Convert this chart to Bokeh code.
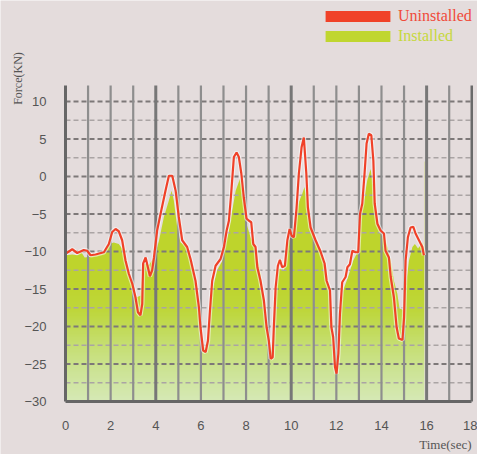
import numpy as np
from bokeh.plotting import figure
from bokeh.models import Range1d, Label, Legend, LegendItem
from bokeh.embed import file_html
from bokeh.resources import INLINE

# ---------------- data ----------------
uninstalled_t = [0.0, 0.3, 0.52, 0.81, 0.96, 1.11, 1.33, 1.7, 1.92, 2.07, 2.22, 2.36, 2.51, 2.66, 2.81,
                 2.96, 3.10, 3.21, 3.32, 3.40, 3.44, 3.55, 3.65, 3.74, 3.84, 3.92, 4.06, 4.21, 4.43,
                 4.58, 4.73, 4.88, 5.02, 5.17, 5.39, 5.54, 5.76, 5.91, 5.98, 6.10, 6.21, 6.31, 6.40,
                 6.50, 6.65, 6.87, 7.02, 7.14, 7.24, 7.34, 7.46, 7.58, 7.68, 7.79, 7.90, 8.02, 8.13,
                 8.23, 8.32, 8.42, 8.50, 8.64, 8.79, 8.91, 9.01, 9.09, 9.18, 9.23, 9.31, 9.41, 9.50,
                 9.60, 9.72, 9.83, 9.93, 10.02, 10.12, 10.24, 10.34, 10.46, 10.56, 10.67, 10.74,
                 10.86, 11.08, 11.30, 11.48, 11.57, 11.72, 11.78, 11.86, 11.94, 12.01, 12.09, 12.16,
                 12.26, 12.41, 12.49, 12.60, 12.71, 12.85, 12.97, 13.05, 13.15, 13.25, 13.34, 13.44,
                 13.55, 13.64, 13.70, 13.82, 13.96, 14.11, 14.18, 14.33, 14.41, 14.55, 14.67, 14.77,
                 14.93, 15.00, 15.07, 15.17, 15.29, 15.41, 15.51, 15.66, 15.81, 15.88]
uninstalled_f = [-10.3, -9.7, -10.2, -9.8, -9.9, -10.5, -10.4, -10.1, -9.0, -7.4, -7.0, -7.3, -8.5, -11.2,
                 -13.0, -14.3, -16.1, -18.1, -18.5, -17.0, -11.6, -10.8, -12.1, -13.3, -12.5, -10.8,
                 -7.2, -5.0, -1.9, 0.1, 0.1, -1.9, -5.4, -8.5, -9.4, -11.0, -13.9, -17.4, -20.1,
                 -23.2, -23.4, -21.9, -17.9, -13.9, -11.9, -11.0, -9.4, -7.2, -5.9, -2.3, 2.6, 3.2,
                 2.6, 0.4, -2.8, -5.6, -5.9, -6.1, -9.0, -9.4, -12.1, -13.9, -16.5, -20.1, -21.9,
                 -24.3, -24.1, -20.1, -14.8, -11.9, -11.1, -12.1, -11.9, -8.5, -7.0, -7.9, -8.1,
                 -4.1, 0.4, 3.9, 5.2, 0.4, -4.1, -6.8, -8.5, -10.0, -11.6, -13.9, -15.2, -20.1,
                 -21.4, -25.4, -26.3, -23.6, -18.3, -14.1, -13.4, -12.1, -11.7, -9.9, -10.1, -10.1,
                 -5.0, -3.6, 0.4, 4.4, 5.7, 5.5, 2.1, -3.6, -6.3, -7.2, -7.6, -9.9, -10.8, -13.4,
                 -16.1, -20.1, -21.6, -21.8, -18.8, -11.2, -8.1, -6.8, -6.7, -7.6, -8.5, -9.4, -10.5]

installed_t = [0.0, 0.3, 0.52, 0.70, 0.85, 1.11, 1.40, 1.70, 1.92, 2.14, 2.36, 2.58, 2.81, 2.96, 3.15,
               3.32, 3.44, 3.70, 3.92, 4.14, 4.36, 4.58, 4.70, 4.80, 4.95, 5.10, 5.32, 5.54, 5.76,
               5.91, 6.06, 6.21, 6.35, 6.50, 6.72, 6.94, 7.09, 7.24, 7.39, 7.54, 7.73, 7.88, 7.98,
               8.20, 8.42, 8.64, 8.87, 9.01, 9.16, 9.31, 9.46, 9.68, 9.90, 10.05, 10.20, 10.34,
               10.49, 10.59, 10.71, 10.76, 10.91, 11.13, 11.37, 11.52, 11.63, 11.78, 11.92, 12.06,
               12.16, 12.30, 12.52, 12.75, 12.97, 13.08, 13.20, 13.37, 13.52, 13.64, 13.75, 13.91,
               14.18, 14.41, 14.55, 14.70, 14.80, 14.98, 15.07, 15.22, 15.37, 15.48, 15.62, 15.81,
               15.90]
installed_f = [-10.5, -10.4, -10.5, -10.1, -10.8, -10.7, -10.5, -10.3, -9.0, -8.8, -9.0, -9.9, -13.4,
               -14.3, -16.1, -15.9, -11.6, -11.8, -10.8, -8.6, -5.4, -3.2, -1.9, -3.2, -6.8, -8.8,
               -9.2, -11.2, -14.8, -18.3, -21.9, -23.2, -20.1, -15.2, -12.5, -11.3, -9.0, -7.2,
               -4.5, -1.9, -0.3, -2.8, -5.9, -8.1, -9.4, -13.0, -18.3, -21.9, -23.5, -16.1, -12.3,
               -12.5, -8.5, -8.1, -5.4, -3.4, -2.3, -1.4, -3.2, -5.0, -7.2, -8.5, -10.5, -13.0,
               -14.8, -17.5, -22.8, -25.4, -19.2, -15.2, -13.4, -11.2, -9.9, -5.4, -3.6, -0.5, 1.0,
               -1.4, -5.4, -7.2, -8.5, -11.2, -13.9, -15.6, -17.6, -17.8, -14.8, -11.2, -9.4, -9.0,
               -9.6, -8.8, -9.9]

x_ticks = [0, 2, 4, 6, 8, 10, 12, 14, 16, 18]
y_ticks = [-30, -25, -20, -15, -10, -5, 0, 5, 10]
series_names = ["Uninstalled", "Installed"]

# ---------------- style ----------------
W, H = 477, 454
BG = "#e4dcdc"
RED = "#f04128"
GREEN = "#c0d630"
X0, X1 = 0, 18          # axis extent
Y_LO, Y_TOP = -30, 12.13  # axis extent
PX_X, PX_Y = 22.57, 7.5   # pixels per unit
LEFT_PX, BOTTOM_PX = 65, 401
x_start = X0 - LEFT_PX / PX_X
x_end = x_start + W / PX_X
y_start = Y_LO - (H - BOTTOM_PX) / PX_Y
y_end = y_start + H / PX_Y

p = figure(width=W, height=H, output_backend="svg", toolbar_location=None,
           x_range=Range1d(x_start, x_end), y_range=Range1d(y_start, y_end),
           min_border=0, min_border_left=0, min_border_right=0,
           min_border_top=0, min_border_bottom=0)
p.background_fill_color = BG
p.border_fill_color = BG
p.outline_line_color = None
p.xgrid.visible = False
p.ygrid.visible = False

# gradient fill below the "Installed" curve: gradient image, then mask above curve
grad_top = max(installed_f) + 1.0
rows = 200
ys = np.linspace(Y_LO, grad_top, rows)
stops_y = [-30, -26, -22, -18, -14, 20]
stops_c = np.array([[214, 233, 182], [205, 228, 150], [197, 222, 108],
                    [190, 215, 60], [190, 213, 44], [190, 212, 44]], dtype=float)
img = np.zeros((rows, 1), dtype=np.uint32)
view = img.view(dtype=np.uint8).reshape((rows, 1, 4))
for ch in range(3):
    view[:, 0, ch] = np.interp(ys, stops_y, stops_c[:, ch]).astype(np.uint8)
view[:, 0, 3] = 255
p.image_rgba(image=[img], x=installed_t[0], y=Y_LO, dw=installed_t[-1] - installed_t[0],
             dh=grad_top - Y_LO)
p.varea(x=installed_t, y1=installed_f, y2=Y_TOP + 1, fill_color=BG)

# grid lines (drawn over the fill)
minor_y = [v + 2.5 for v in y_ticks[:-1]]
p.segment(x0=X0, x1=X1, y0=minor_y, y1=minor_y, line_color="#aaa4a4", line_width=1.5, line_dash="5 3")
p.segment(x0=X0, x1=X1, y0=y_ticks[1:], y1=y_ticks[1:], line_color="#7d7878", line_width=2, line_dash="5 3")
vx = list(range(X0 + 1, X1 + 1))
heavy = [4, 10, 16]
light_x = [v for v in vx if v not in heavy and v != X1]
p.segment(x0=light_x, x1=light_x, y0=Y_LO, y1=Y_TOP, line_color="#8e8e8e", line_width=2.2)
p.segment(x0=heavy, x1=heavy, y0=Y_LO, y1=Y_TOP, line_color="#777777", line_width=3)
p.segment(x0=[X1], x1=[X1], y0=Y_LO, y1=Y_TOP, line_color="#6a6a6a", line_width=2.5)

# red curve with light halo
p.line(uninstalled_t, uninstalled_f, line_color="#ffffff", line_alpha=0.55, line_width=4.5)
p.line(uninstalled_t, uninstalled_f, line_color=RED, line_width=2.2)

# axes placed inside the full-canvas frame
p.yaxis.fixed_location = X0
p.xaxis.fixed_location = Y_LO
p.yaxis.bounds = (Y_LO, Y_TOP)
p.xaxis.bounds = (X0, X1)
for ax in (p.xaxis[0], p.yaxis[0]):
    ax.major_tick_line_color = None
    ax.minor_tick_line_color = None
    ax.axis_line_color = "#666666"
    ax.axis_line_width = 3
    ax.major_label_text_font = "Liberation Sans"
    ax.major_label_text_font_size = "13px"
    ax.major_label_text_color = "#555555"
p.xaxis.ticker = x_ticks
p.yaxis.ticker = y_ticks
p.xaxis.major_label_standoff = 13
p.yaxis.major_label_standoff = 13

# axis titles
p.add_layout(Label(x=x_start + 17 / PX_X, y=y_end - 78 / PX_Y, text="Force(KN)", angle=np.pi / 2,
                   text_align="center", text_baseline="middle", text_font="Liberation Serif",
                   text_font_size="12px", text_color="#555555"))
p.add_layout(Label(x=x_start + 471 / PX_X, y=y_end - 444 / PX_Y, text="Time(sec)", text_align="right",
                   text_baseline="middle", text_font="Liberation Serif", text_font_size="13px",
                   text_color="#555555"))

# legend (two legends for two label colours); swatch renderers hold no visible data
nan = [float("nan")]
r_red = p.quad(left=nan, right=nan, top=nan, bottom=nan, fill_color=RED, line_color=None)
r_grn = p.quad(left=nan, right=nan, top=nan, bottom=nan, fill_color=GREEN, line_color=None)
for i, (rend, col) in enumerate([(r_red, "#f04a3a"), (r_grn, "#c6d83c")]):
    lg = Legend(items=[LegendItem(label=series_names[i], renderers=[rend])],
                location=(317, H - 25 - 20 * i), orientation="vertical",
                glyph_width=81, glyph_height=14, label_standoff=0, label_height=18,
                padding=0, margin=0, spacing=0, border_line_color=None,
                background_fill_alpha=0, label_text_font="Liberation Serif",
                label_text_font_size="16px", label_text_color=col)
    p.add_layout(lg, "center")

open("out.html", "w").write(file_html(p, INLINE))
